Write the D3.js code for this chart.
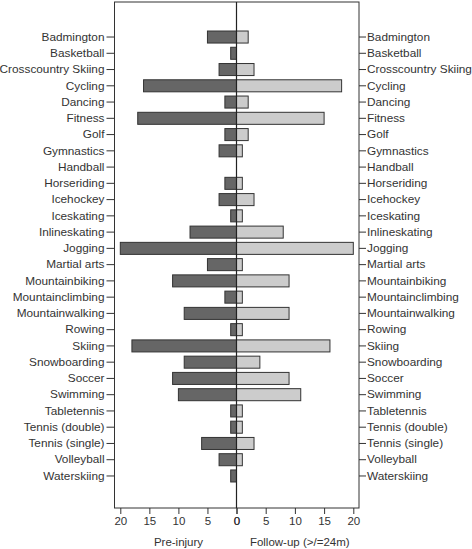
<!DOCTYPE html>
<html>
<head>
<meta charset="utf-8">
<script src="https://cdn.jsdelivr.net/npm/d3@7"></script>
<style>
  html, body { margin: 0; padding: 0; background: #fff; }
  svg { display: block; }
  text { font-family: "Liberation Sans", Arial, sans-serif; fill: #333; }
</style>
</head>
<body>
<svg id="chart" width="472" height="549"></svg>
<script>
const sports = ["Badmington","Basketball","Crosscountry Skiing","Cycling","Dancing","Fitness","Golf","Gymnastics","Handball","Horseriding","Icehockey","Iceskating","Inlineskating","Jogging","Martial arts","Mountainbiking","Mountainclimbing","Mountainwalking","Rowing","Skiing","Snowboarding","Soccer","Swimming","Tabletennis","Tennis (double)","Tennis (single)","Volleyball","Waterskiing"];
const preInjury = [5,1,3,16,2,17,2,3,0,2,3,1,8,20,5,11,2,9,1,18,9,11,10,1,1,6,3,1];
const followUp  = [2,0,3,18,2,15,2,1,0,1,3,1,8,20,1,9,1,9,1,16,4,9,11,1,1,3,1,0];
const xTicks = [0,5,10,15,20];
const leftTitle = "Pre-injury";
const rightTitle = "Follow-up (>/=24m)";

const svg = d3.select("#chart");
const plotTop = 2, plotBottom = 508, plotLeft = 114.5, plotMid = 236.5, plotRight = 359;

const xL = d3.scaleLinear().domain([0, 21]).range([plotMid, plotMid - 21 * 5.81]);
const xR = d3.scaleLinear().domain([0, 21]).range([plotMid, plotMid + 21 * 5.84]);
const y = d3.scaleBand().domain(sports).range([28.9, 484.1]).paddingInner(0.26).paddingOuter(0.13);

// frame
svg.append("rect").attr("x", plotLeft).attr("y", plotTop).attr("width", plotRight - plotLeft).attr("height", plotBottom - plotTop)
  .attr("fill", "none").attr("stroke", "#333").attr("stroke-width", 1);

// bars
svg.append("g").selectAll("rect").data(sports.map((s, i) => ({s, v: preInjury[i]})).filter(d => d.v > 0))
  .join("rect")
  .attr("x", d => xL(d.v)).attr("y", d => y(d.s))
  .attr("width", d => xL(0) - xL(d.v)).attr("height", y.bandwidth())
  .attr("fill", "#666").attr("stroke", "#333").attr("stroke-width", 1);

svg.append("g").selectAll("rect").data(sports.map((s, i) => ({s, v: followUp[i]})).filter(d => d.v > 0))
  .join("rect")
  .attr("x", xR(0)).attr("y", d => y(d.s))
  .attr("width", d => xR(d.v) - xR(0)).attr("height", y.bandwidth())
  .attr("fill", "#ccc").attr("stroke", "#333").attr("stroke-width", 1);

// center line
svg.append("line").attr("x1", plotMid).attr("x2", plotMid).attr("y1", plotTop).attr("y2", plotBottom)
  .attr("stroke", "#222").attr("stroke-width", 1.2);

function styleAxis(size) {
  return g => {
    g.select(".domain").remove();
    g.selectAll(".tick line").attr("stroke", "#333");
    g.selectAll("text").attr("font-size", size).attr("fill", "#333")
      .attr("font-family", "'Liberation Sans', Arial, sans-serif");
  };
}

svg.append("g").attr("transform", `translate(${plotLeft},0)`)
  .call(d3.axisLeft(y).tickSize(8).tickPadding(2)).call(styleAxis(11.8));
svg.append("g").attr("transform", `translate(${plotRight},0)`)
  .call(d3.axisRight(y).tickSize(7).tickPadding(1)).call(styleAxis(11.8));

svg.append("g").attr("transform", `translate(0,${plotBottom})`)
  .call(d3.axisBottom(xL).tickValues(xTicks).tickSize(6).tickPadding(3)).call(styleAxis(11.5));
svg.append("g").attr("transform", `translate(0,${plotBottom})`)
  .call(d3.axisBottom(xR).tickValues(xTicks).tickSize(6).tickPadding(3)).call(styleAxis(11.5));

svg.append("text").attr("x", (plotLeft + plotMid) / 2 + 3).attr("y", 546).attr("text-anchor", "middle")
  .attr("font-size", 11.5).text(leftTitle);
svg.append("text").attr("x", (plotMid + plotRight) / 2 + 2).attr("y", 546).attr("text-anchor", "middle")
  .attr("font-size", 11.5).text(rightTitle);
</script>
</body>
</html>
